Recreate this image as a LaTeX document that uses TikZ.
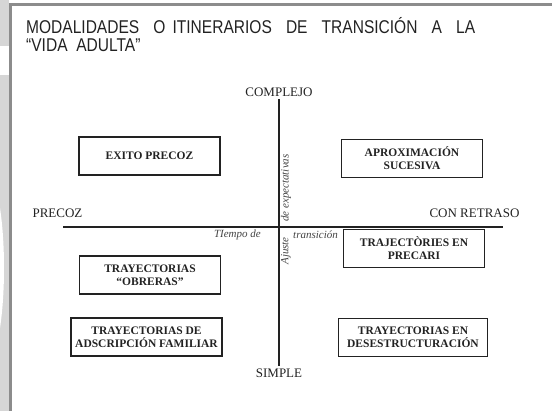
\documentclass[tikz,border=0pt]{standalone}
\usepackage{fontspec}
\setmainfont{Liberation Serif}
\newfontfamily\titulofont[FakeStretch=0.84]{Liberation Sans}
\usetikzlibrary{positioning}

\definecolor{marco}{HTML}{8C8C8C}
\definecolor{franja}{HTML}{D6D6D6}
\definecolor{tinta}{HTML}{222222}

\tikzset{
  caja/.style={draw=tinta, line width=1.3pt, align=center,
    font=\fontsize{11.5}{13}\selectfont\bfseries, text=tinta,
    minimum width=141pt, minimum height=38pt, inner sep=2pt},
  polo/.style={font=\fontsize{13}{15}\selectfont, text=tinta, inner sep=1pt},
  eje/.style={line width=1.2pt, draw=tinta},
  rotulo/.style={font=\fontsize{11}{13}\selectfont\itshape, text=tinta!85, inner sep=1pt},
}

\begin{document}
\begin{tikzpicture}[x=1pt,y=-1pt]
    \useasboundingbox (0,0) rectangle (552,411);

    % Page strip
    \fill[franja] (0,0) rectangle (9,411);
    \fill[white] (0,46) rectangle (9,75);
    \begin{scope}
        \clip (0,0) rectangle (9,411);
        \fill[white] (-16,268) ellipse (20 and 100);
    \end{scope}

    % Frame
    \draw[marco, line width=3pt] (10.5,411) -- (10.5,4.5) -- (552,4.5);

    % Title
    \node[anchor=base west, inner sep=0pt, text=tinta, font=\titulofont\fontsize{18.5}{18}\selectfont] (titulo1) at (26,34)
        {\makebox[449pt][s]{MODALIDADES \ O ITINERARIOS \ DE \ TRANSICIÓN \ A \ LA}};
    \node[anchor=base west, inner sep=0pt, text=tinta, font=\titulofont\fontsize{18.5}{18}\selectfont] (titulo2) at (26,52)
        {“VIDA \ ADULTA”};

    % Axes
    \coordinate (ejeN) at (279,99);
    \coordinate (ejeS) at (279,366);
    \coordinate (ejeW) at (63,227);
    \coordinate (ejeE) at (503,227);
    \draw[eje] (ejeN) -- (ejeS);
    \draw[eje] (ejeW) -- (ejeE);

    \node[polo, above=1pt of ejeN] (complejo) {COMPLEJO};
    \node[polo, below=2pt of ejeS] (simple) {SIMPLE};
    \node[polo] (precoz) at (57.5,213.5) {PRECOZ};
    \node[polo] (retraso) at (474.5,213.5) {CON RETRASO};

    % Axis captions
    \node[rotulo, anchor=east] (tiempo) at (262,235) {TIempo de};
    \node[rotulo, anchor=west] (transicion) at (292,235) {transición};
    \node[rotulo, rotate=90, anchor=west] (expect) at (286,223) {de expectativas};
    \node[rotulo, rotate=90, anchor=east] (ajuste) at (286,236) {Ajuste};

    % Quadrants
    \node[caja] (exito) at (149.5,156) {EXITO PRECOZ};
    \node[caja] (aprox) at (412,158.5) {APROXIMACIÓN\\SUCESIVA};
    \node[caja] (precari) at (414,248.5) {TRAJECTÒRIES EN\\PRECARI};
    \node[caja] (obreras) at (150,275) {TRAYECTORIAS\\“OBRERAS”};
    \node[caja, minimum width=151pt] (familiar) at (146.5,337) {TRAYECTORIAS DE\\ADSCRIPCIÓN FAMILIAR};
    \node[caja, minimum width=149pt] (desestr) at (413,337.5) {TRAYECTORIAS EN\\DESESTRUCTURACIÓN};
\end{tikzpicture}
\end{document}
